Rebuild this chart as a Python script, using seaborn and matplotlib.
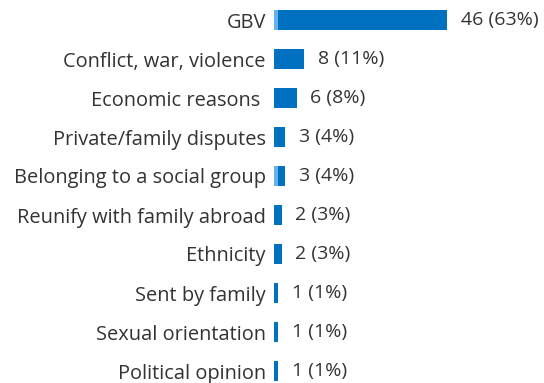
import matplotlib
matplotlib.use("Agg")
import matplotlib.pyplot as plt
import seaborn as sns
import pandas as pd

categories = [
    "GBV",
    "Conflict, war, violence",
    "Economic reasons ",
    "Private/family disputes",
    "Belonging to a social group",
    "Reunify with family abroad",
    "Ethnicity",
    "Sent by family",
    "Sexual orientation",
    "Political opinion",
]
counts = [46, 8, 6, 3, 3, 2, 2, 1, 1, 1]
percents = [63, 11, 8, 4, 4, 3, 3, 1, 1, 1]
# lighter leading segment inside some bars
light_part = [1, 0, 0, 0, 1, 0, 0, 0, 0, 0]

DARK = "#0070C0"
LIGHT = "#62B1F2"
TEXT = "#333333"
FS_LABEL = 14.4
FS_VALUE = 14

sns.set_theme(style="white")
plt.rcParams["font.family"] = ["Open Sans", "DejaVu Sans"]

df = pd.DataFrame({"reason": categories, "count": counts, "light": light_part})

fig = plt.figure(figsize=(5.44, 3.83), dpi=100)
ax = fig.add_axes([274 / 544, 0, 1 - 274 / 544, 1])

sns.barplot(data=df, y="reason", x="count", color=DARK, saturation=1,
            width=0.52, ax=ax, orient="h", linewidth=0)
sns.barplot(data=df, y="reason", x="light", color=LIGHT, saturation=1,
            width=0.52, ax=ax, orient="h", linewidth=0)

for i, (c, p) in enumerate(zip(counts, percents)):
    ax.annotate(f"{c} ({p}%)", xy=(c, i), xytext=(10, 0),
                textcoords="offset points", va="center", ha="left",
                fontsize=FS_VALUE, color=TEXT)

ax.set_xlim(0, 270 / 3.76)
ax.set_ylim(9 + 12 / 39, -20 / 39)
ax.set_xlabel("")
ax.set_ylabel("")
ax.set_xticks([])
ax.tick_params(axis="y", length=0, pad=6, labelsize=FS_LABEL, labelcolor=TEXT)
for s in ax.spines.values():
    s.set_visible(False)

fig.savefig("out.png", dpi=100)
